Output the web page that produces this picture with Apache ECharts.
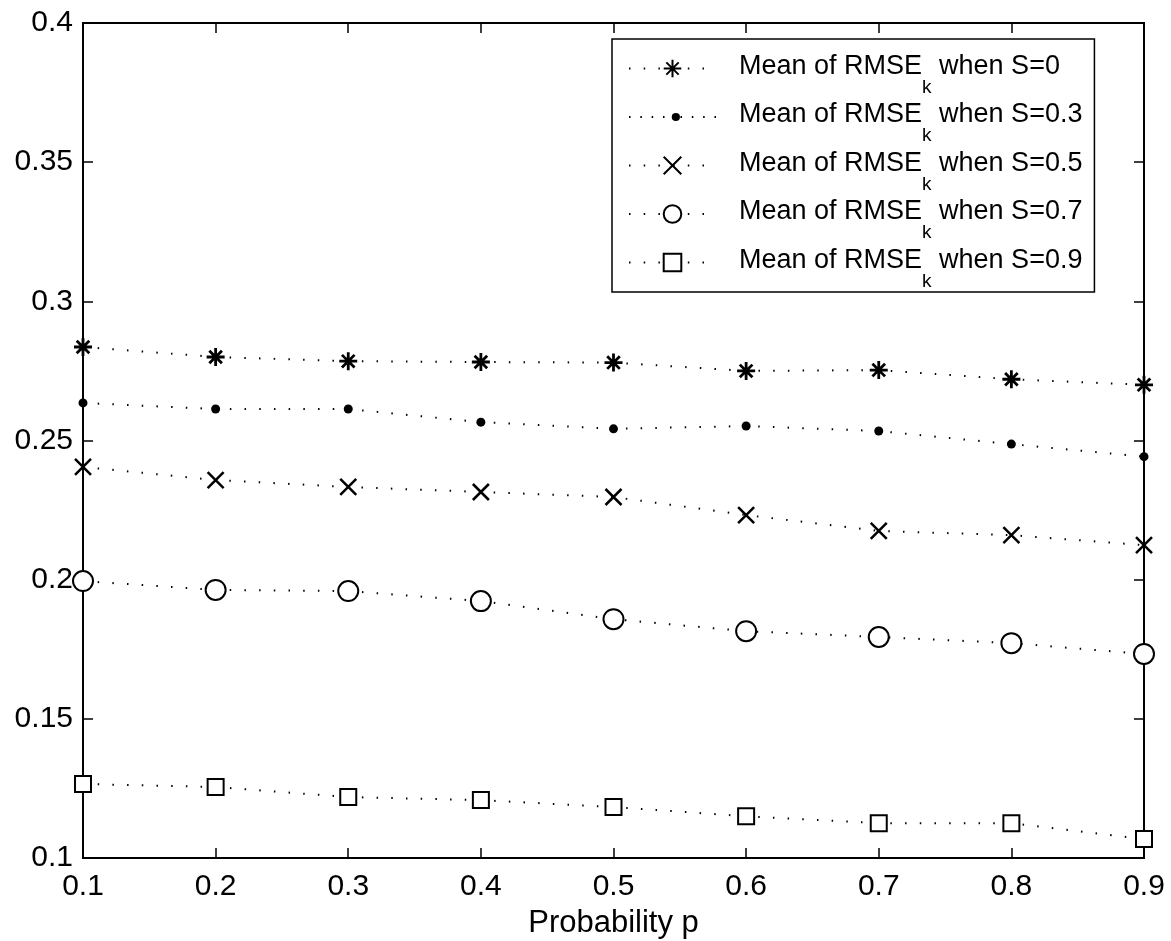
<!DOCTYPE html>
<html>
<head>
<meta charset="utf-8">
<script src="https://cdn.jsdelivr.net/npm/echarts@6/dist/echarts.min.js"></script>
<style>
  html, body { margin: 0; padding: 0; background: #fff; }
  #chart { width: 1171px; height: 941px; }
</style>
</head>
<body>
<div id="chart"></div>
<script>
var probs = [0.1, 0.2, 0.3, 0.4, 0.5, 0.6, 0.7, 0.8, 0.9];
var sLabels = ['0', '0.3', '0.5', '0.7', '0.9'];
var rmseS0 = [0.2836, 0.2800, 0.2785, 0.2782, 0.2780, 0.2750, 0.2753, 0.2720, 0.2700];
var rmseS03 = [0.2635, 0.2613, 0.2613, 0.2566, 0.2542, 0.2552, 0.2534, 0.2487, 0.2442];
var rmseS05 = [0.2405, 0.2358, 0.2333, 0.2315, 0.2297, 0.2232, 0.2175, 0.2160, 0.2124];
var rmseS07 = [0.1995, 0.1963, 0.1959, 0.1923, 0.1858, 0.1815, 0.1794, 0.1772, 0.1733];
var rmseS09 = [0.1266, 0.1255, 0.1219, 0.1208, 0.1183, 0.1150, 0.1125, 0.1125, 0.1068];

var chart = echarts.init(document.getElementById('chart'));
var font = 'Liberation Sans, Arial, Helvetica, sans-serif';

var starPath = 'path://M0,5L10,5M5,0L5,10M1.5,1.5L8.5,8.5M8.5,1.5L1.5,8.5';
var crossPath = 'path://M0,0L10,10M10,0L0,10';

// legend icon for the small dot: dotted line + small filled dot
function dotIcon() {
    var p = 'path://';
    var xs = [2, 13, 24, 35, 52, 63, 74, 85];
    xs.forEach(function (x) {
        p += 'M' + x + ',9L' + (x + 1.5) + ',9L' + (x + 1.5) + ',11L' + x + ',11Z';
    });
    p += 'M47.5,10m-4,0a4,4 0 1,0 8,0a4,4 0 1,0 -8,0Z';
    return p;
}

function pairs(vals) {
    return vals.map(function (v, i) { return [probs[i], v]; });
}

var dotted = { color: '#000', width: 2, type: [1.5, 13.2] };

function mkSeries(idx, vals, symbol, size, itemStyle) {
    return {
        name: '{m|Mean of RMSE}{k|k}{m| when S=' + sLabels[idx] + '}',
        type: 'line',
        data: pairs(vals),
        symbol: symbol,
        symbolSize: size,
        showAllSymbol: true,
        lineStyle: dotted,
        itemStyle: itemStyle,
        z: 3,
        animation: false
    };
}

var series = [
    mkSeries(0, rmseS0, starPath, 18, { color: '#000', borderColor: '#000', borderWidth: 2.8 }),
    mkSeries(1, rmseS03, 'circle', 9, { color: '#000', borderWidth: 0 }),
    mkSeries(2, rmseS05, crossPath, 16, { color: '#000', borderColor: '#000', borderWidth: 2.5 }),
    mkSeries(3, rmseS07, 'emptyCircle', 20, { color: '#000', borderColor: '#000', borderWidth: 2.5 }),
    mkSeries(4, rmseS09, 'emptyRect', 16, { color: '#000', borderColor: '#000', borderWidth: 3 })
];

var legendData = series.map(function (s, i) {
    if (i === 1) {
        return { name: s.name, icon: dotIcon(), itemStyle: { color: '#000', borderWidth: 0 } };
    }
    return { name: s.name };
});

var tickStyle = { show: true, inside: true, length: 10, lineStyle: { color: '#000', width: 1.5 } };

var option = {
    backgroundColor: '#fff',
    animation: false,
    grid: {
        left: 83, right: 27, top: 23, bottom: 83,
        outerBoundsMode: 'none',
        containLabel: false,
        show: true, borderColor: '#000', borderWidth: 2, backgroundColor: '#fff'
    },
    legend: {
        orient: 'vertical',
        left: 612, top: 39,
        padding: [14, 12, 1, 16],
        backgroundColor: '#fff',
        borderColor: '#000',
        borderWidth: 1.5,
        borderRadius: 0,
        itemWidth: 87,
        itemHeight: 22,
        itemGap: 4.5,
        selectedMode: false,
        textStyle: {
            color: '#000', fontFamily: font, fontSize: 27,
            padding: [12, 0, 0, 18],
            rich: {
                m: { fontSize: 27, fontFamily: font, color: '#000', padding: [0, 0, 16, 0] },
                k: { fontSize: 19, fontFamily: font, color: '#000', padding: [26, 0, 0, 0] }
            }
        },
        data: legendData
    },
    xAxis: [{
        type: 'value', min: 0.1, max: 0.9, interval: 0.1,
        name: 'Probability p', nameLocation: 'middle', nameGap: 50,
        nameTextStyle: { color: '#000', fontFamily: font, fontSize: 31 },
        axisLine: { show: false },
        axisTick: tickStyle,
        splitLine: { show: false },
        axisLabel: { color: '#000', fontFamily: font, fontSize: 30, margin: 14 }
    }, {
        type: 'value', position: 'top', min: 0.1, max: 0.9, interval: 0.1,
        axisLine: { show: false }, axisTick: tickStyle,
        splitLine: { show: false }, axisLabel: { show: false }
    }],
    yAxis: [{
        type: 'value', min: 0.1, max: 0.4, interval: 0.05,
        axisLine: { show: false },
        axisTick: tickStyle,
        splitLine: { show: false },
        axisLabel: {
            color: '#000', fontFamily: font, fontSize: 30, margin: 10,
            formatter: function (v) { return +v.toFixed(2) + ''; }
        }
    }, {
        type: 'value', position: 'right', min: 0.1, max: 0.4, interval: 0.05,
        axisLine: { show: false }, axisTick: tickStyle,
        splitLine: { show: false }, axisLabel: { show: false }
    }],
    series: series
};

chart.setOption(option);
</script>
</body>
</html>
